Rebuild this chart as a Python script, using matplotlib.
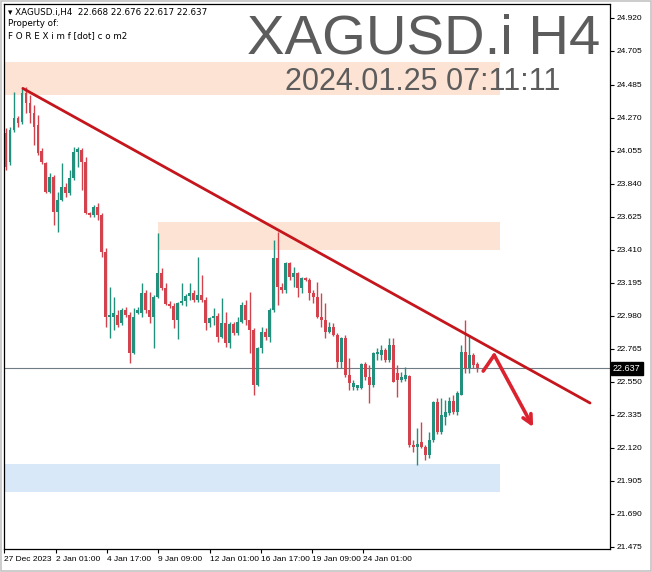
import matplotlib.pyplot as plt
from matplotlib.patches import Rectangle

symbol = "XAGUSD.i"
timeframe = "H4"
last_ohlc = [22.668, 22.676, 22.617, 22.637]
stamp = "2024.01.25 07:11:11"

# H4 candles, oldest first
opens = [24.171, 23.982, 24.190, 24.268, 24.242, 24.431, 24.366, 24.301, 24.223, 24.053,
         23.975, 23.786, 23.884, 23.656, 23.734, 23.819, 23.780, 23.877, 24.047, 24.060,
         23.982, 23.649, 23.636, 23.688, 23.636, 23.395, 22.972, 22.972, 22.985, 22.933,
         23.017, 22.985, 22.737, 22.998, 22.998, 23.128, 23.017, 22.972, 23.102, 23.258,
         23.161, 23.056, 23.043, 22.952, 23.063, 23.076, 23.109, 23.128, 23.083, 23.115,
         23.083, 22.933, 22.965, 22.978, 22.841, 22.933, 22.802, 22.926, 22.868, 22.939,
         23.050, 22.952, 22.887, 22.529, 22.770, 22.874, 22.841, 23.017, 23.356, 23.167,
         23.148, 23.324, 23.232, 23.258, 23.161, 23.226, 23.213, 23.128, 23.102, 22.972,
         22.952, 22.874, 22.907, 22.855, 22.679, 22.835, 22.594, 22.516, 22.509, 22.509,
         22.666, 22.581, 22.529, 22.731, 22.724, 22.757, 22.692, 22.789, 22.607, 22.561,
         22.568, 22.587, 22.138, 22.125, 22.157, 22.125, 22.073, 22.170, 22.418, 22.223,
         22.320, 22.346, 22.425, 22.353, 22.464, 22.744, 22.640, 22.724, 22.668]
highs = [24.203, 24.210, 24.438, 24.281, 24.470, 24.470, 24.418, 24.353, 24.288, 24.073,
         23.982, 23.910, 23.897, 23.786, 23.975, 23.845, 23.929, 24.079, 24.079, 24.073,
         24.014, 23.656, 23.701, 23.715, 23.649, 23.421, 23.167, 23.102, 23.017, 23.030,
         23.037, 23.004, 23.030, 23.037, 23.193, 23.148, 23.135, 23.115, 23.519, 23.291,
         23.193, 23.076, 23.063, 23.070, 23.193, 23.122, 23.193, 23.148, 23.363, 23.245,
         23.102, 22.972, 23.030, 22.998, 23.096, 23.004, 22.939, 22.939, 22.972, 23.070,
         23.083, 23.135, 22.900, 22.776, 22.907, 22.900, 23.030, 23.473, 23.526, 23.193,
         23.330, 23.330, 23.298, 23.265, 23.232, 23.232, 23.226, 23.148, 23.200, 23.128,
         23.063, 22.939, 22.933, 22.868, 22.841, 22.855, 22.705, 22.561, 22.529, 22.672,
         22.679, 22.659, 22.744, 22.770, 22.789, 22.770, 22.835, 22.835, 22.659, 22.613,
         22.646, 22.594, 22.170, 22.249, 22.288, 22.138, 22.223, 22.425, 22.444, 22.444,
         22.431, 22.451, 22.464, 22.490, 22.789, 22.952, 22.855, 22.737, 22.676]
lows = [23.929, 23.962, 24.177, 24.210, 24.229, 24.301, 24.236, 24.092, 24.027, 23.969,
        23.780, 23.780, 23.571, 23.526, 23.730, 23.754, 23.767, 23.864, 23.949, 23.799,
        23.640, 23.623, 23.623, 23.604, 23.363, 22.907, 22.835, 22.887, 22.907, 22.920,
        22.972, 22.672, 22.731, 22.991, 22.972, 22.998, 22.933, 22.770, 23.096, 23.148,
        23.050, 23.030, 22.900, 22.828, 23.050, 23.043, 23.083, 23.070, 23.070, 23.070,
        22.887, 22.907, 22.920, 22.809, 22.835, 22.776, 22.770, 22.855, 22.855, 22.933,
        22.920, 22.737, 22.464, 22.522, 22.737, 22.822, 22.809, 23.004, 23.050, 23.128,
        23.128, 23.213, 23.167, 23.102, 23.128, 23.206, 23.083, 23.063, 22.965, 22.907,
        22.835, 22.868, 22.848, 22.640, 22.640, 22.581, 22.496, 22.496, 22.496, 22.503,
        22.561, 22.412, 22.516, 22.692, 22.692, 22.679, 22.679, 22.548, 22.451, 22.548,
        22.555, 22.125, 22.092, 22.008, 22.118, 22.040, 22.053, 22.157, 22.210, 22.210,
        22.268, 22.333, 22.340, 22.333, 22.461, 22.607, 22.607, 22.640, 22.617]
closes = [23.949, 24.190, 24.268, 24.236, 24.431, 24.366, 24.301, 24.210, 24.040, 23.982,
          23.786, 23.884, 23.656, 23.734, 23.819, 23.780, 23.877, 24.047, 24.066, 23.982,
          23.649, 23.636, 23.688, 23.636, 23.395, 22.972, 22.985, 22.998, 22.920, 23.017,
          22.985, 22.737, 22.972, 23.017, 23.128, 23.017, 22.972, 23.102, 23.258, 23.161,
          23.056, 23.043, 22.952, 23.063, 23.076, 23.109, 23.128, 23.083, 23.115, 23.083,
          22.933, 22.965, 22.978, 22.841, 22.933, 22.802, 22.926, 22.868, 22.939, 23.050,
          22.952, 22.887, 22.529, 22.770, 22.874, 22.841, 23.017, 23.356, 23.167, 23.148,
          23.324, 23.232, 23.258, 23.161, 23.226, 23.213, 23.128, 23.102, 22.972, 22.952,
          22.874, 22.907, 22.855, 22.679, 22.835, 22.594, 22.542, 22.542, 22.529, 22.666,
          22.581, 22.529, 22.737, 22.744, 22.757, 22.692, 22.789, 22.548, 22.561, 22.581,
          22.594, 22.138, 22.125, 22.144, 22.125, 22.073, 22.170, 22.418, 22.223, 22.333,
          22.353, 22.425, 22.353, 22.477, 22.744, 22.640, 22.724, 22.659, 22.637]

price_ticks = [24.920, 24.705, 24.485, 24.270, 24.055, 23.840, 23.625, 23.410, 23.195,
               22.980, 22.765, 22.550, 22.335, 22.120, 21.905, 21.690, 21.475]
date_labels = ["27 Dec 2023", "2 Jan 01:00", "4 Jan 17:00", "9 Jan 09:00",
               "12 Jan 01:00", "16 Jan 17:00", "19 Jan 09:00", "24 Jan 01:00"]
date_ticks = [-0.5, 12.5, 25.25, 38, 51, 63.75, 76.75, 89.5]

# supply / demand boxes: first bar, last bar, low, high, colour
zones = [(-1, 123.75, 24.418, 24.633, "#fde3d4"),
         (38, 123.75, 23.409, 23.591, "#fde3d4"),
         (-1, 123.75, 21.832, 22.014, "#d8e8f8")]
trend_x = [4.25, 146.25]
trend_y = [24.461, 22.412]
arrow_x = [119.5, 122.25, 132]
arrow_y = [22.620, 22.724, 22.255]

bull = "#23907e"
bear = "#d3434e"
small = dict(family="Liberation Sans", fontsize=6)

fig = plt.figure(figsize=(6.52, 5.72), dpi=100)
# thin grey frame round the whole screenshot
fig.patches.append(Rectangle((0.001, 0.001), 0.997, 0.997, transform=fig.transFigure,
                             fill=False, ec="#c4c4c4", lw=1.2))
ax = fig.add_axes([4 / 652, 1 - 549 / 572, 606 / 652, 545 / 572])

for x0, x1, lo, hi, col in zones:
    ax.add_patch(Rectangle((x0, lo), x1 - x0, hi - lo, color=col, lw=0, zorder=0))

ax.axhline(closes[-1], color="#6f7c86", lw=0.8, zorder=1)

for i in range(len(opens)):
    o, h, l, c = opens[i], highs[i], lows[i], closes[i]
    col = bull if c >= o else bear
    ax.vlines(i, l, h, color=col, lw=1.0, zorder=2)
    ax.bar(i, max(abs(c - o), 0.005), bottom=min(o, c), width=0.72,
           color=col, lw=0, zorder=3)

ax.plot(trend_x, trend_y, color="#c4161c", lw=2.0, solid_capstyle="round", zorder=4)
ax.plot(arrow_x[:2], arrow_y[:2], color="#db2330", lw=2.6, solid_capstyle="round", zorder=5)
ax.annotate("", xy=(arrow_x[2], arrow_y[2]), xytext=(arrow_x[1], arrow_y[1]),
            arrowprops=dict(arrowstyle="->", color="#db2330", lw=2.6,
                            mutation_scale=16, shrinkA=0, shrinkB=0), zorder=5)

ax.set_xlim(-0.25, 151.25)
ax.set_ylim(21.461, 25.011)

ax.yaxis.tick_right()
ax.set_yticks(price_ticks)
ax.set_yticklabels([f"{p:.3f}" for p in price_ticks], **small)
ax.tick_params(axis="y", length=3, width=0.8, pad=2, colors="black")
ax.set_xticks(date_ticks)
ax.set_xticklabels(date_labels, ha="left", **small)
ax.tick_params(axis="x", length=3, width=0.8, pad=2)
for s in ax.spines.values():
    s.set_linewidth(0.9)

ax.annotate(f"{closes[-1]:.3f}", xy=(1.0, closes[-1]), xycoords=("axes fraction", "data"),
            xytext=(2.0, 0), textcoords="offset points", ha="left", va="center",
            color="white", family="Liberation Sans", fontsize=6.5,
            bbox=dict(boxstyle="square,pad=0.25", fc="black", ec="black"))

o, h, l, c = last_ohlc
fig.text(8 / 652, 1 - 12 / 572, f"\u25be {symbol},{timeframe}  {o:.3f} {h:.3f} {l:.3f} {c:.3f}",
         fontsize=6.3, va="center")
fig.text(8 / 652, 1 - 24 / 572, "Property of:", fontsize=6.3, va="center")
fig.text(8 / 652, 1 - 36 / 572, "F O R E X i m f [dot] c o m2", fontsize=6.3, va="center")

fig.text(600 / 652, 1 - 40 / 572, f"{symbol} {timeframe}", family="Liberation Sans",
         fontsize=40.5, color="#5c5c5c", ha="right", va="center")
fig.text(560 / 652, 1 - 82 / 572, stamp, family="Liberation Sans",
         fontsize=22, color="#5c5c5c", ha="right", va="center")

fig.savefig("out.png", dpi=100)
